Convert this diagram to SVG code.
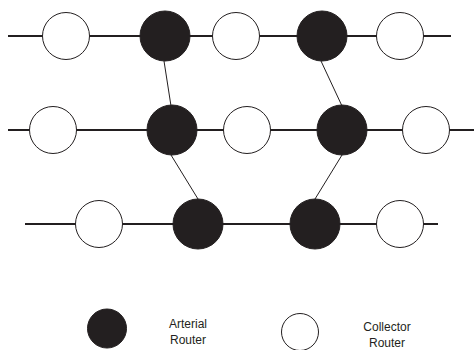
<svg xmlns="http://www.w3.org/2000/svg" width="474" height="350" viewBox="0 0 474 350">
<style>
.bus{stroke:#231f20;stroke-width:2;fill:none}
.link{stroke:#231f20;stroke-width:1;fill:none}
.art{fill:#231f20;stroke:#231f20;stroke-width:1}
.col{fill:#fff;stroke:#231f20;stroke-width:1}
text{font-family:"Liberation Sans",Arial,sans-serif;font-size:12px;fill:#231f20;text-anchor:middle}
</style>
<rect width="474" height="350" fill="#fff"/>
<g id="connectors">
<line class="bus" x1="8" y1="36" x2="451" y2="36"/>
<line class="bus" x1="8" y1="130" x2="474" y2="130"/>
<line class="bus" x1="25" y1="224" x2="438" y2="224"/>
<line class="link" x1="164" y1="61" x2="171" y2="106"/>
<line class="link" x1="321" y1="61" x2="342" y2="106"/>
<line class="link" x1="171" y1="155" x2="198" y2="199"/>
<line class="link" x1="342" y1="155" x2="315" y2="199"/>
</g>
<g id="r1c1"><circle class="col" cx="66" cy="36" r="23.5"/></g>
<g id="r1a1"><circle class="art" cx="165" cy="36" r="25"/></g>
<g id="r1c2"><circle class="col" cx="236" cy="36" r="23.5"/></g>
<g id="r1a2"><circle class="art" cx="322" cy="36" r="25"/></g>
<g id="r1c3"><circle class="col" cx="400" cy="36" r="23.5"/></g>
<g id="r2c1"><circle class="col" cx="53" cy="130" r="23.5"/></g>
<g id="r2a1"><circle class="art" cx="172" cy="130" r="25"/></g>
<g id="r2c2"><circle class="col" cx="247" cy="130" r="23.5"/></g>
<g id="r2a2"><circle class="art" cx="342" cy="130" r="25"/></g>
<g id="r2c3"><circle class="col" cx="426" cy="130" r="23.5"/></g>
<g id="r3c1"><circle class="col" cx="99" cy="224" r="23.5"/></g>
<g id="r3a1"><circle class="art" cx="198" cy="224" r="25"/></g>
<g id="r3a2"><circle class="art" cx="315" cy="224" r="25"/></g>
<g id="r3c2"><circle class="col" cx="400" cy="224" r="23.5"/></g>
<g id="legend-arterial">
<circle class="art" cx="107" cy="328.5" r="19.5"/>
<text x="188" y="328">Arterial</text>
<text x="188" y="344">Router</text>
</g>
<g id="legend-collector">
<circle class="col" cx="300" cy="332" r="18.5"/>
<text x="387" y="331">Collector</text>
<text x="387" y="347">Router</text>
</g>
</svg>
